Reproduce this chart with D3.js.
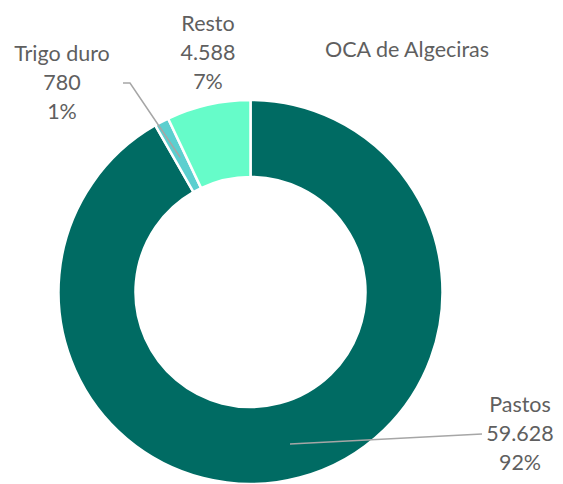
<!DOCTYPE html>
<html><head><meta charset="utf-8">
<script src="https://cdn.jsdelivr.net/npm/d3@7"></script>
<style>body{margin:0;background:#fff}svg{display:block}text{font-family:Lato,"Open Sans",sans-serif;fill:#5f5f5f}</style>
</head><body><div id="chart"></div>
<script>
const categories = ["Pastos", "Trigo duro", "Resto"];
const values = [59628, 780, 4588];
const valueLabels = ["59.628", "780", "4.588"];
const percentLabels = ["92%", "1%", "7%"];
const colors = ["#006b63", "#5ccfcf", "#66fcc9"];
const title = "OCA de Algeciras";

const W = 563, H = 484;
const cx = 250.5, cy = 292, rOut = 192, rIn = 115;
const svg = d3.select("#chart").append("svg").attr("width", W).attr("height", H);
const g = svg.append("g").attr("transform", `translate(${cx},${cy})`);

const data = categories.map((c, i) => ({cat: c, value: values[i], vl: valueLabels[i], pl: percentLabels[i], color: colors[i]}));
const pie = d3.pie().value(d => d.value).sort(null);
const arcs = pie(data);
const arc = d3.arc().innerRadius(rIn).outerRadius(rOut);

g.selectAll("path.slice").data(arcs).join("path")
  .attr("class", "slice").attr("d", arc)
  .attr("fill", d => d.data.color)
  .attr("stroke", "#fff").attr("stroke-width", 2.5);

// leader lines
const pt = (a, r) => [r * Math.sin(a), -r * Math.cos(a)];
const lineCol = "#a6a6a6";
// Pastos
g.append("path").attr("d", d3.line()([[290 - cx, 444 - cy], [482 - cx, 434 - cy]]))
  .attr("fill", "none").attr("stroke", lineCol).attr("stroke-width", 1.5);
// Trigo duro
{
  const a = arcs[1];
  const mid = (a.startAngle + a.endAngle) / 2;
  const pIn = pt(mid, rOut - 40);
  g.append("path").attr("d", d3.line()([[123 - cx, 83 - cy], [130 - cx, 83 - cy], pIn]))
    .attr("fill", "none").attr("stroke", lineCol).attr("stroke-width", 1.5);
}

const fs = 21.5, lh = 29;
function label(x, yBase, d) {
  const t = svg.append("text").attr("x", x).attr("y", yBase).attr("text-anchor", "middle").style("font-size", fs + "px");
  [d.cat, d.vl, d.pl].forEach((s, i) => t.append("tspan").attr("x", x).attr("y", yBase + i * lh).text(s));
}
label(520, 412, data[0]);
label(62, 61, data[1]);
label(208, 31, data[2]);

svg.append("text").attr("x", 325).attr("y", 57).style("font-size", fs + "px").text(title);
</script></body></html>
